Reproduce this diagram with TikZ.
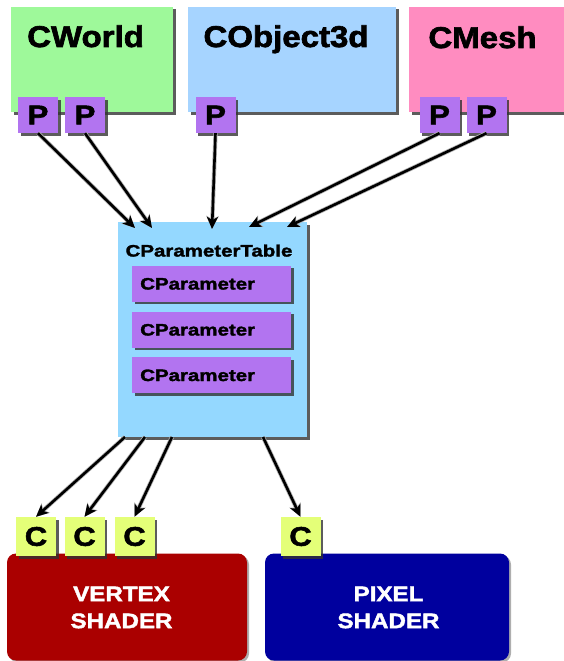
\documentclass[tikz,border=0pt]{standalone}
\usepackage{fontspec}
\setmainfont{Liberation Sans}
\newfontfamily\bigf[FakeStretch=1.1,FakeBold=2.2]{Liberation Sans}
\newfontfamily\widef[FakeStretch=1.15,FakeBold=2]{Liberation Sans}
\newfontfamily\smallf[FakeStretch=1.24,FakeBold=2]{Liberation Sans}
\usetikzlibrary{arrows.meta,shadows}
\definecolor{worldc}{HTML}{9EF99A}
\definecolor{objc}{HTML}{A6D4FF}
\definecolor{meshc}{HTML}{FF8CC0}
\definecolor{tablec}{HTML}{94D8FF}
\definecolor{purp}{HTML}{B274F0}
\definecolor{cc}{HTML}{E4FF78}
\definecolor{vred}{HTML}{AA0000}
\definecolor{pblue}{HTML}{00009E}
\begin{document}
\begin{tikzpicture}[x=1pt,y=-1pt,
  box/.style={draw=none,inner sep=0pt,rectangle,
    drop shadow={shadow xshift=2.5pt,shadow yshift=-2.5pt,opacity=0.8,fill=black!80}},
  bigbox/.style={box,minimum height=105pt},
  title/.style={font=\bigf\bfseries\fontsize{30}{30}\selectfont,inner sep=0pt},
  pbox/.style={box,fill=purp,minimum width=40pt,minimum height=36pt,
    font=\widef\bfseries\fontsize{27}{27}\selectfont},
  cbox/.style={box,fill=cc,minimum width=40pt,minimum height=39pt,
    font=\widef\bfseries\fontsize{27}{27}\selectfont},
  parbox/.style={box,fill=purp,minimum width=159pt,minimum height=36pt},
  partxt/.style={font=\smallf\bfseries\fontsize{16.5}{16.5}\selectfont,inner sep=0pt,anchor=base west},
  shader/.style={draw=none,rounded corners=9pt,inner sep=0pt,minimum width=240pt,minimum height=107pt,
    drop shadow={shadow xshift=2pt,shadow yshift=-2pt,opacity=0.45,fill=black!70}},
  shtxt/.style={text=white,align=center,inner sep=0pt,
    font=\widef\bfseries\fontsize{21}{27}\selectfont},
  arr/.style={draw=black,line width=2.6pt,-{Stealth[length=12pt,width=11pt,inset=3pt]},
    preaction={draw=black!30,line width=4.2pt,-{Stealth[length=13pt,width=12.5pt,inset=3pt]}}}
]
\useasboundingbox (0,0) rectangle (564,661);

% top boxes
\node[bigbox,fill=worldc,minimum width=162pt] (world) at (92,59.5) {};
\node[bigbox,fill=objc,minimum width=208pt] (obj) at (292,59.5) {};
\node[bigbox,fill=meshc,minimum width=160pt] (mesh) at (489,59.5) {};
\node[title,anchor=base west] (worldt) at (27,47) {CWorld};
\node[title,anchor=base] (objt) at (286,47) {CObject3d};
\node[title,anchor=base] (mesht) at (482.5,48) {CMesh};

% P boxes
\node[pbox] (p1) at (38,115) {P};
\node[pbox] (p2) at (85,115) {P};
\node[pbox] (p3) at (215.5,115) {P};
\node[pbox] (p4) at (439.5,115) {P};
\node[pbox] (p5) at (486.5,115) {P};

% parameter table
\node[box,fill=tablec,minimum width=189pt,minimum height=215pt] (table) at (212.5,329.5) {};
\node[font=\smallf\bfseries\fontsize{16.5}{16.5}\selectfont,inner sep=0pt,anchor=base] (tablet) at (209,256.5) {CParameterTable};
\node[parbox] (cp1) at (211.5,283.5) {};
\node[parbox] (cp2) at (211.5,329.5) {};
\node[parbox] (cp3) at (211.5,375) {};
\node[partxt] (cp1t) at (140,289.5) {CParameter};
\node[partxt] (cp2t) at (140,335.5) {CParameter};
\node[partxt] (cp3t) at (140,381) {CParameter};

% shaders
\node[shader,fill=vred] (vs) at (127,607) {};
\node[shader,fill=pblue,minimum width=244pt] (ps) at (387,607) {};
\node[shtxt] (vst) at (121.5,607.5) {VERTEX\\SHADER};
\node[shtxt] (pst) at (388.5,607.5) {PIXEL\\SHADER};

% C boxes
\node[cbox] (c1) at (36,536.5) {C};
\node[cbox] (c2) at (84.5,536.5) {C};
\node[cbox] (c3) at (134.5,536.5) {C};
\node[cbox] (c4) at (300.5,536.5) {C};

% arrow end/start points on table edges
\coordinate (ti1) at (135,228);
\coordinate (ti2) at (152,228);
\coordinate (ti3) at (212,229);
\coordinate (ti4) at (249,227);
\coordinate (ti5) at (287,227);
\coordinate (to1) at (125,437);
\coordinate (to2) at (145,437);
\coordinate (to3) at (172,437);
\coordinate (to4) at (263,437);

\draw[arr] (p1.south) -- (ti1);
\draw[arr] (p2.south) -- (ti2);
\draw[arr] (p3.south) -- (ti3);
\draw[arr] (p4.south) -- (ti4);
\draw[arr] (p5.south) -- (ti5);
\draw[arr] (to1) -- (c1.north);
\draw[arr] (to2) -- (c2.north);
\draw[arr] (to3) -- (c3.north);
\draw[arr] (to4) -- (c4.north);
\end{tikzpicture}
\end{document}
